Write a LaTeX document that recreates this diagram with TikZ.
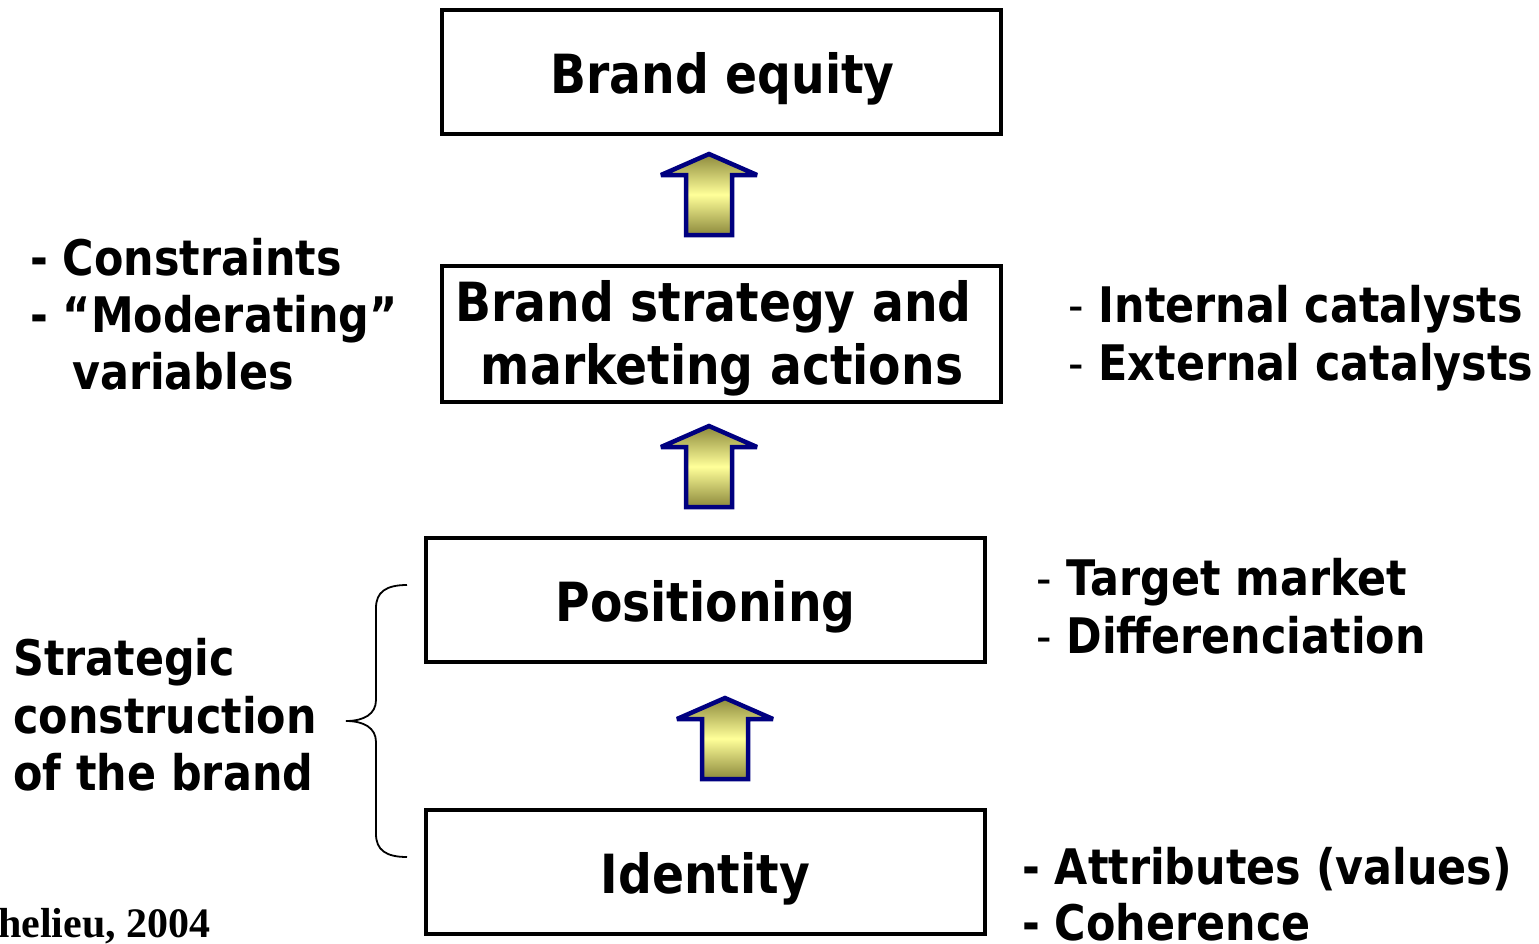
\documentclass[tikz,border=0pt]{standalone}
\usepackage{fontspec}
\newfontfamily\tah{DejaVu Sans}[FakeStretch=0.875]
\newfontfamily\tms{Liberation Serif}
\definecolor{navyb}{RGB}{0,0,128}
\definecolor{oliv}{RGB}{140,137,60}
\definecolor{lyel}{RGB}{255,255,153}
\tikzset{
  box/.style={draw=black, line width=4pt, minimum width=559pt, inner sep=0pt},
  boxtext/.style={anchor=base, inner sep=0pt, font=\tah\bfseries\fontsize{54}{63}\selectfont},
  side/.style={anchor=base west, inner sep=0pt, font=\tah\bfseries\fontsize{49}{57}\selectfont},
  blockarrow/.style={draw=navyb, line width=4.5pt, line join=miter, miter limit=2.5, top color=oliv, bottom color=oliv, middle color=lyel},
  bracestyle/.style={draw=black, line width=1.8pt}
}
\newcommand\uparr[1]{\path[blockarrow] (#1) -- ++(48,21) -- ++(-25,0) -- ++(0,60) -- ++(-46,0) -- ++(0,-60) -- ++(-25,0) -- cycle;}
\begin{document}
\begin{tikzpicture}[x=1pt,y=-1pt]
\useasboundingbox (0,0) rectangle (1539,943);
% boxes
\node[box, minimum height=124pt] (b1) at (721.5,72) {};
\node[box, minimum height=136pt] (b2) at (721.5,334) {};
\node[box, minimum height=124pt] (b3) at (705.5,600) {};
\node[box, minimum height=124pt] (b4) at (705.5,872) {};
% box texts
\node[boxtext] (t1) at (722.5,93) {Brand equity};
\node[boxtext] (t2a) at (713.5,321) {Brand strategy and};
\node[boxtext] (t2b) at (722,384) {marketing actions};
\node[boxtext] (t3) at (705.5,621) {Positioning};
\node[boxtext] (t4) at (705.5,893) {Identity};
% arrows
\coordinate (a1) at (709,154);
\coordinate (a2) at (709,426);
\coordinate (a3) at (725,698);
\uparr{a1}
\uparr{a2}
\uparr{a3}
% left texts
\node[side] (l1) at (30,275) {- Constraints};
\node[side] (l2) at (30,332) {- “Moderating”};
\node[side] (l3) at (72,389) {variables};
\node[side] (s1) at (13,675) {Strategic};
\node[side] (s2) at (13,733) {construction};
\node[side] (s3) at (13,790) {of the brand};
% brace
\coordinate (bt) at (407,585);
\coordinate (bm) at (346,721);
\coordinate (bb) at (407,857);
\draw[bracestyle] (bt) .. controls (386,585) and (376,592) .. (376,608) -- (376,700)
  .. controls (376,714) and (364,721) .. (bm)
  .. controls (364,721) and (376,728) .. (376,742) -- (376,834)
  .. controls (376,850) and (386,857) .. (bb);
% right texts
\node[side] (r1) at (1068,322) {{\mdseries -} Internal catalysts};
\node[side] (r2) at (1068,380) {{\mdseries -} External catalysts};
\node[side] (r3) at (1036,595) {{\mdseries -} Target market};
\node[side] (r4) at (1036,653) {{\mdseries -} Differenciation};
\node[side] (r5) at (1022,884) {- Attributes (values)};
\node[side] (r6) at (1022,940) {- Coherence};
% citation
\node[anchor=base west, inner sep=0pt, font=\tms\bfseries\fontsize{42}{46}\selectfont] (cit) at (-2,937) {helieu, 2004};
\end{tikzpicture}
\end{document}
